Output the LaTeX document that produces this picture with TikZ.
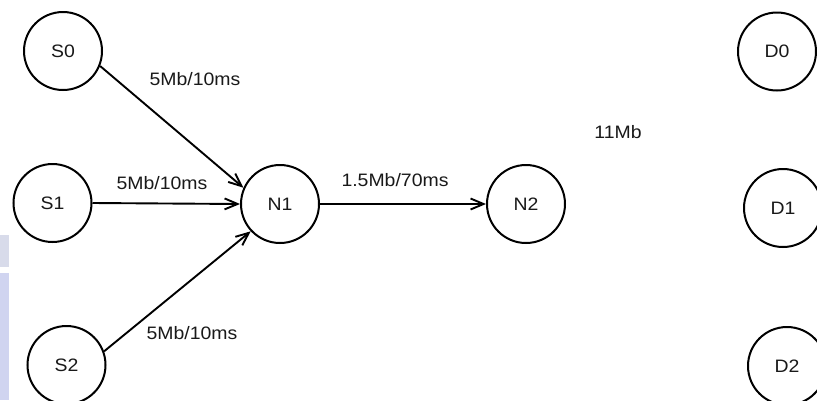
\documentclass[tikz,border=0pt]{standalone}
\usepackage{fontspec}
\setmainfont{Liberation Sans}[FakeStretch=1.08]
\usetikzlibrary{arrows.meta}
\definecolor{stripblue}{RGB}{208,212,240}
\definecolor{stripgray}{RGB}{216,219,234}
\definecolor{txt}{RGB}{25,25,25}
\tikzset{
  netnode/.style={circle,draw=black,line width=2pt,minimum size=78pt,inner sep=0pt,
    font=\fontsize{18}{21}\selectfont,text=txt},
  link/.style={line width=1.9pt,-{Straight Barb[length=13pt,width=11pt,line width=1.9pt]}},
  lbl/.style={font=\fontsize{18}{21}\selectfont,text=txt,inner sep=0pt}
}
\begin{document}
\begin{tikzpicture}[x=1pt,y=-1pt]
\useasboundingbox (0,0) rectangle (817,400);
\clip (0,0) rectangle (817,400);
\fill[white] (0,0) rectangle (817,400);
\fill[stripgray] (0,235) rectangle (9,267);
\fill[stripblue] (0,273) rectangle (9,400);
\node[netnode] (S0) at (63,51) {S0};
\node[netnode] (S1) at (52.5,203) {S1};
\node[netnode] (S2) at (66.5,365) {S2};
\node[netnode] (N1) at (280,204) {N1};
\node[netnode] (N2) at (526,204) {N2};
\node[netnode] (D0) at (777,51.5) {D0};
\node[netnode] (D1) at (783,208) {D1};
\node[netnode] (D2) at (787,366) {D2};
\draw[link] (S0.-22) -- (N1.156);
\draw[link] (S1.0) -- (N1.180);
\draw[link] (S2.20) -- (N1.-137);
\draw[link] (N1.0) -- (N2.180);
\node[lbl] (l0) at (195,79) {5Mb/10ms};
\node[lbl] (l1) at (162,183) {5Mb/10ms};
\node[lbl] (l2) at (192,333) {5Mb/10ms};
\node[lbl] (l3) at (395,180) {1.5Mb/70ms};
\node[lbl] (buf) at (618,132) {11Mb};
\end{tikzpicture}
\end{document}
